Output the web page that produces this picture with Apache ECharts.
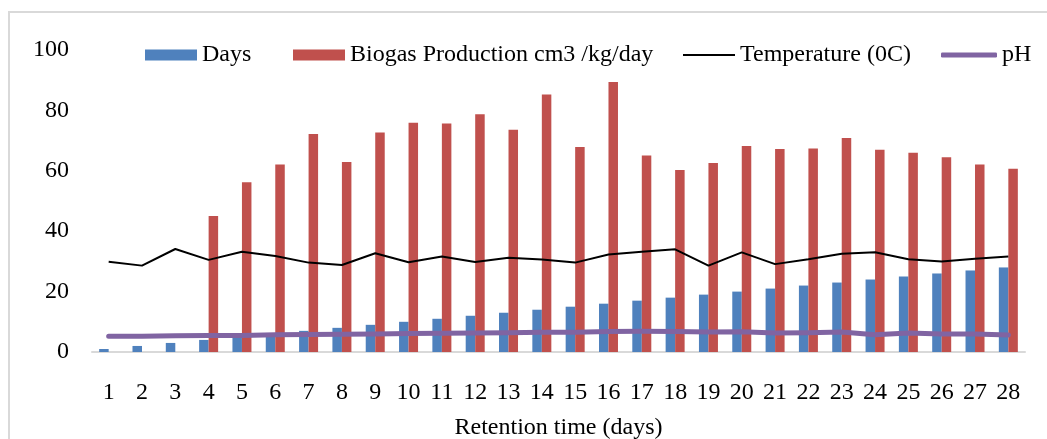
<!DOCTYPE html>
<html>
<head>
<meta charset="utf-8">
<script src="https://cdn.jsdelivr.net/npm/echarts@6/dist/echarts.min.js"></script>
<style>
  html, body { margin: 0; padding: 0; background: #fff; }
  #chart { width: 1047px; height: 439px; }
</style>
</head>
<body>
<div id="chart"></div>
<script>
const categories = ['1','2','3','4','5','6','7','8','9','10','11','12','13','14','15','16','17','18','19','20','21','22','23','24','25','26','27','28'];
const days = [1,2,3,4,5,6,7,8,9,10,11,12,13,14,15,16,17,18,19,20,21,22,23,24,25,26,27,28];
const biogas = [0,0,0,45.0,56.2,62.1,72.2,62.9,72.7,75.9,75.7,78.7,73.6,85.3,67.9,89.4,65.1,60.3,62.6,68.2,67.2,67.4,70.9,67.0,66.0,64.5,62.1,60.7];
const temperature = [29.9,28.6,34.1,30.5,33.2,31.8,29.6,28.8,32.7,29.7,31.6,29.8,31.2,30.6,29.6,32.3,33.2,34.0,28.6,33.0,29.1,30.7,32.5,33.0,30.7,30.0,30.9,31.6];
const ph = [5.2,5.2,5.4,5.5,5.5,5.7,5.8,5.9,6.0,6.1,6.2,6.3,6.4,6.5,6.5,6.8,6.9,6.8,6.6,6.7,6.3,6.4,6.6,5.7,6.3,6.0,6.0,5.6];
const yTicks = [0,20,40,60,80,100];

const FONT = "'Liberation Serif', 'Times New Roman', serif";
const txt = { fontFamily: FONT, fontSize: 24, color: '#000', lineHeight: 24 };

const chart = echarts.init(document.getElementById('chart'), null, { renderer: 'canvas' });
const legendBase = { top: 43, padding: 0, itemGap: 0, textStyle: txt, selectedMode: false };
chart.setOption({
  animation: false,
  backgroundColor: '#fff',
  graphic: [{
    type: 'rect', z: -1,
    shape: { x: 9, y: 12, width: 1100, height: 500 },
    style: { fill: 'none', stroke: '#d9d9d9', lineWidth: 2 }
  }],
  legend: [
    Object.assign({}, legendBase, { left: 145, data: [{ name: 'Days', icon: 'rect' }], itemWidth: 52, itemHeight: 11 }),
    Object.assign({}, legendBase, { left: 293, data: [{ name: 'Biogas Production cm3 /kg/day', icon: 'rect' }], itemWidth: 52, itemHeight: 11 }),
    Object.assign({}, legendBase, { left: 683, data: [{ name: 'Temperature (0C)', icon: 'rect' }], itemWidth: 52, itemHeight: 2 }),
    Object.assign({}, legendBase, { left: 941, data: [{ name: 'pH', icon: 'roundRect' }], itemWidth: 56, itemHeight: 5 })
  ],
  grid: { left: 92, right: 22, top: 50, bottom: 87, containLabel: false, outerBoundsMode: 'none' },
  xAxis: {
    type: 'category',
    data: categories,
    name: 'Retention time (days)',
    nameLocation: 'middle',
    nameGap: 64,
    nameTextStyle: txt,
    axisLine: { show: true, lineStyle: { color: '#d9d9d9', width: 2 } },
    axisTick: { show: false },
    axisLabel: Object.assign({ margin: 29, interval: 0 }, txt)
  },
  yAxis: {
    type: 'value',
    min: yTicks[0],
    max: yTicks[yTicks.length - 1],
    interval: 20,
    axisLine: { show: false },
    axisTick: { show: false },
    splitLine: { show: false },
    axisLabel: Object.assign({ margin: 23 }, txt)
  },
  series: [
    { name: 'Days', type: 'bar', data: days, barWidth: 9.5, barGap: '0%', itemStyle: { color: '#4F81BD' }, z: 2 },
    { name: 'Biogas Production cm3 /kg/day', type: 'bar', data: biogas, barWidth: 9.5, barGap: '0%', itemStyle: { color: '#C0504D' }, z: 2 },
    { name: 'Temperature (0C)', type: 'line', data: temperature, symbol: 'none', lineStyle: { color: '#000', width: 2 }, itemStyle: { color: '#000' }, z: 3 },
    { name: 'pH', type: 'line', data: ph, symbol: 'none', lineStyle: { color: '#8064A2', width: 5, cap: 'round', join: 'round' }, itemStyle: { color: '#8064A2' }, z: 4 }
  ]
});
</script>
</body>
</html>
